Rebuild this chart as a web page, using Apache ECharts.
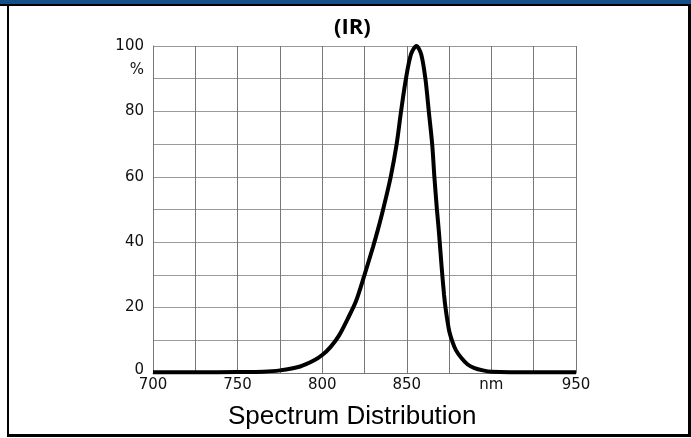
<!DOCTYPE html>
<html>
<head>
<meta charset="utf-8">
<script src="https://cdn.jsdelivr.net/npm/echarts@6/dist/echarts.min.js"></script>
<style>
html,body{margin:0;padding:0;background:#fff;}
#wrap{position:relative;width:691px;height:438px;overflow:hidden;}
#chart{position:absolute;left:0;top:0;width:691px;height:438px;}
.f{position:absolute;pointer-events:none;}
</style>
</head>
<body>
<div id="wrap">
<div id="chart"></div>
<div class="f" style="left:0;top:0;width:691px;height:4px;background:#12508c;"></div>
<div class="f" style="left:0;top:4px;width:691px;height:2px;background:#000;"></div>
<div class="f" style="left:7px;top:4px;width:2px;height:433px;background:#000;"></div>
<div class="f" style="left:688px;top:4px;width:3px;height:433px;background:#000;"></div>
<div class="f" style="left:7px;top:434px;width:684px;height:3px;background:#000;"></div>
</div>
<script>
// Data
var wavelength = [700, 725, 750, 765, 775, 787, 795, 800, 805, 810, 815, 820, 825, 830, 833, 836, 840.5, 844, 846.6, 849.5, 852.5, 855.7, 858.5, 861, 863, 865, 866.3, 867.8, 869, 870.5, 872, 873, 875, 877, 879, 882.4, 886, 890, 895, 900, 925, 950];
var intensity  = [0.2, 0.2, 0.3, 0.4, 0.8, 2, 3.8, 5.5, 8, 11.5, 16.5, 22, 30, 38.5, 44, 50, 60, 70, 80, 90, 97.5, 100, 97.5, 90, 80, 70, 60, 50, 43, 33, 24, 19.5, 13, 9.5, 7, 4.5, 2.6, 1.5, 0.8, 0.4, 0.2, 0.2];

var xTickValues = [700, 750, 800, 850, 900, 950];
var xTickTexts  = ['700', '750', '800', '850', 'nm', '950'];
var yTickValues = [100, 90, 80, 60, 40, 20, 0];
var yTickTexts  = ['100', '%', '80', '60', '40', '20', '0'];

var titleText = '(IR)';
var xCaption = 'Spectrum Distribution';

var points = wavelength.map(function (w, i) { return [w, intensity[i]]; });

var chart = echarts.init(document.getElementById('chart'), null, {renderer: 'canvas'});
var labelFont = 'DejaVu Sans';
var labelSize = 15;
chart.setOption({
  animation: false,
  backgroundColor: '#fff',
  title: [
    {text: titleText, left: 329, top: 12,
     textStyle: {fontFamily: 'Open Sans', fontWeight: 'bold', fontSize: 22, color: '#000'}},
    {text: xCaption, left: 223, top: 399,
     textStyle: {fontFamily: 'Liberation Sans', fontWeight: 'normal', fontSize: 26, color: '#000'}}
  ],
  grid: {left: 153, right: 115, top: 46, bottom: 65, containLabel: false},
  xAxis: {
    type: 'value', min: 700, max: 950, interval: 25,
    axisLine: {show: true, lineStyle: {color: '#777', width: 1}},
    axisTick: {show: false},
    splitLine: {show: true, lineStyle: {color: '#777', width: 1}},
    axisLabel: {
      margin: 5, fontFamily: labelFont, fontSize: labelSize, color: '#111',
      showMinLabel: true, showMaxLabel: true,
      formatter: function (v) {
        var i = xTickValues.indexOf(v);
        return i >= 0 ? xTickTexts[i] : '';
      }
    }
  },
  yAxis: {
    type: 'value', min: 0, max: 100, interval: 10,
    axisLine: {show: true, lineStyle: {color: '#777', width: 1}},
    axisTick: {show: false},
    splitLine: {show: true, lineStyle: {color: '#9a9a9a', width: 1}},
    axisLabel: {
      margin: 9, fontFamily: labelFont, fontSize: labelSize, color: '#111',
      showMinLabel: true, showMaxLabel: true,
      formatter: function (v) {
        var i = yTickValues.indexOf(v);
        if (i < 0) return '';
        var t = yTickTexts[i];
        if (t === '%') return '{pct|' + t + '}';
        if (v === 0) return '{zero|' + t + '}';
        return t;
      },
      rich: {
        pct: {fontFamily: labelFont, fontSize: labelSize, color: '#111', padding: [0, 0, 18, 0]},
        zero: {fontFamily: labelFont, fontSize: labelSize, color: '#111', padding: [0, 0, 6, 0]}
      }
    }
  },
  series: [{
    type: 'line',
    data: points,
    smooth: 0.3,
    symbol: 'none',
    lineStyle: {color: '#000', width: 4},
    z: 5
  }]
});
</script>
</body>
</html>
